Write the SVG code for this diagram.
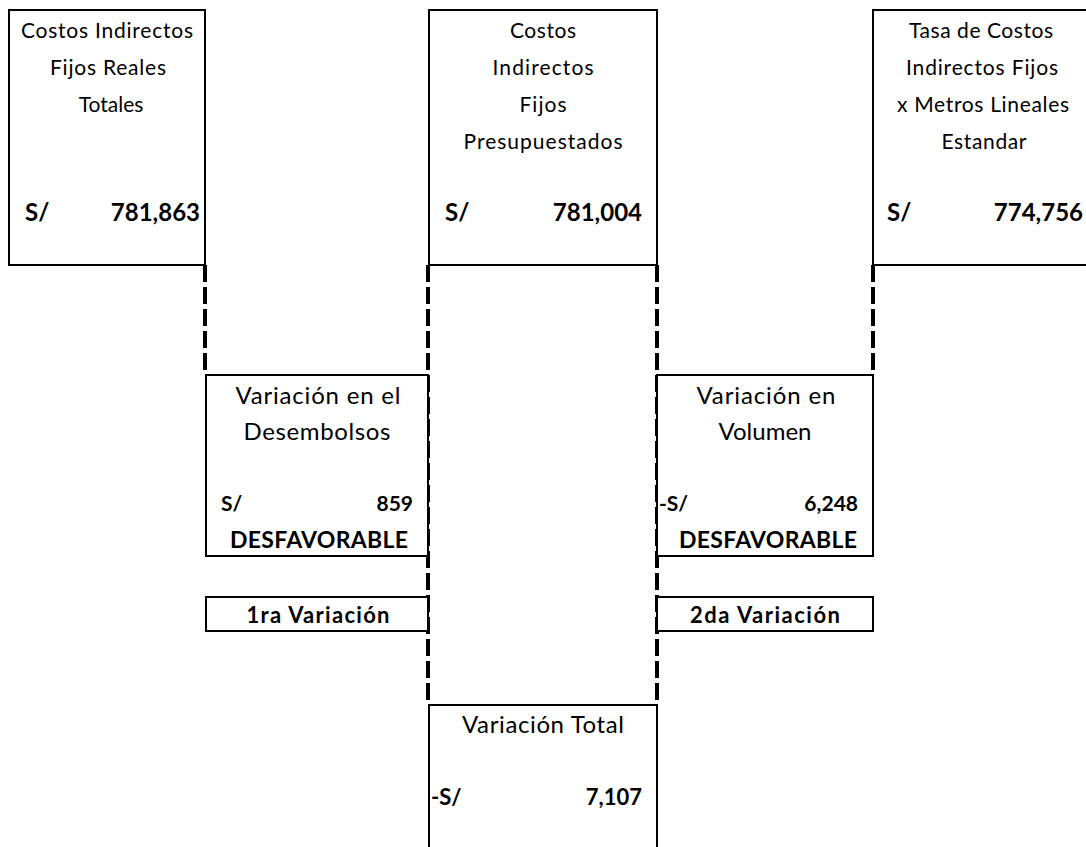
<svg xmlns="http://www.w3.org/2000/svg" width="1086" height="847" viewBox="0 0 1086 847">
  <style>
    .box { fill: #ffffff; stroke: #000000; stroke-width: 2; }
    .link { fill: none; stroke: #000000; stroke-width: 4; stroke-dasharray: 17 5; }
    .t { font-family: Lato, "Liberation Sans", sans-serif; fill: #000000; }
    .lbl { font-size: 21px; text-anchor: middle; }
    .lbl2 { font-size: 24px; text-anchor: middle; }
    .amt { font-size: 24px; font-weight: bold; }
    .amt2 { font-size: 21px; font-weight: bold; }
    .amt3 { font-size: 22px; font-weight: bold; }
    .tag { font-size: 23px; font-weight: bold; text-anchor: middle; }
    .cap { font-size: 22px; font-weight: bold; text-anchor: middle; }
    .end { text-anchor: end; }
  </style>
  <rect width="1086" height="847" fill="#ffffff"/>

  <!-- dashed connectors between the cost boxes and the variance boxes -->
  <g id="connectors">
    <line class="link" x1="205" y1="265" x2="205" y2="375"/>
    <line class="link" x1="428" y1="265" x2="428" y2="705"/>
    <line class="link" x1="657" y1="265" x2="657" y2="705"/>
    <line class="link" x1="873" y1="265" x2="873" y2="375"/>
  </g>

  <!-- actual fixed overhead -->
  <g id="reales">
    <rect class="box" x="9" y="10" width="196" height="255"/>
    <text class="t lbl" x="107" y="38" textLength="172" lengthAdjust="spacing">Costos Indirectos</text>
    <text class="t lbl" x="108" y="75" textLength="116" lengthAdjust="spacing">Fijos Reales</text>
    <text class="t lbl" x="111" y="112">Totales</text>
    <text class="t amt" x="25" y="221">S/</text>
    <text class="t amt end" x="200" y="221">781,863</text>
  </g>

  <!-- budgeted fixed overhead -->
  <g id="presupuestados">
    <rect class="box" x="429" y="10" width="228" height="255"/>
    <text class="t lbl" x="543" y="38" textLength="66" lengthAdjust="spacing">Costos</text>
    <text class="t lbl" x="543" y="75" textLength="101" lengthAdjust="spacing">Indirectos</text>
    <text class="t lbl" x="543" y="112" textLength="47" lengthAdjust="spacing">Fijos</text>
    <text class="t lbl" x="543" y="149" textLength="159" lengthAdjust="spacing">Presupuestados</text>
    <text class="t amt" x="445" y="221">S/</text>
    <text class="t amt end" x="642" y="221">781,004</text>
  </g>

  <!-- standard rate applied -->
  <g id="estandar">
    <rect class="box" x="873" y="10" width="220" height="255"/>
    <text class="t lbl" x="981" y="38" textLength="144" lengthAdjust="spacing">Tasa de Costos</text>
    <text class="t lbl" x="982" y="75" textLength="152" lengthAdjust="spacing">Indirectos Fijos</text>
    <text class="t lbl" x="983" y="112" textLength="172" lengthAdjust="spacing">x Metros Lineales</text>
    <text class="t lbl" x="984" y="149" textLength="85" lengthAdjust="spacing">Estandar</text>
    <text class="t amt" x="887" y="221">S/</text>
    <text class="t amt end" x="1083" y="221">774,756</text>
  </g>

  <!-- spending variance -->
  <g id="desembolsos">
    <rect class="box" x="206" y="375" width="222" height="181"/>
    <text class="t lbl2" x="318" y="404" textLength="165" lengthAdjust="spacing">Variación en el</text>
    <text class="t lbl2" x="317" y="440" textLength="147" lengthAdjust="spacing">Desembolsos</text>
    <text class="t amt2" x="221" y="511">S/</text>
    <text class="t amt2 end" x="413" y="511">859</text>
    <text class="t tag" x="319" y="548" textLength="178" lengthAdjust="spacing">DESFAVORABLE</text>
  </g>

  <g id="primera">
    <rect class="box" x="206" y="597" width="222" height="34"/>
    <text class="t cap" x="318" y="623" textLength="143" lengthAdjust="spacing">1ra Variación</text>
  </g>

  <!-- volume variance -->
  <g id="volumen">
    <rect class="box" x="657" y="375" width="216" height="181"/>
    <text class="t lbl2" x="766" y="404" textLength="139" lengthAdjust="spacing">Variación en</text>
    <text class="t lbl2" x="765" y="440">Volumen</text>
    <text class="t amt2" x="659" y="511">-S/</text>
    <text class="t amt2 end" x="858" y="511">6,248</text>
    <text class="t tag" x="768" y="548" textLength="178" lengthAdjust="spacing">DESFAVORABLE</text>
  </g>

  <g id="segunda">
    <rect class="box" x="657" y="597" width="216" height="34"/>
    <text class="t cap" x="765" y="623" textLength="150" lengthAdjust="spacing">2da Variación</text>
  </g>

  <!-- total variance -->
  <g id="total">
    <rect class="box" x="429" y="705" width="228" height="160"/>
    <text class="t lbl2" x="543" y="733" textLength="162" lengthAdjust="spacing">Variación Total</text>
    <text class="t amt3" x="431" y="805">-S/</text>
    <text class="t amt3 end" x="642" y="805">7,107</text>
  </g>
</svg>
